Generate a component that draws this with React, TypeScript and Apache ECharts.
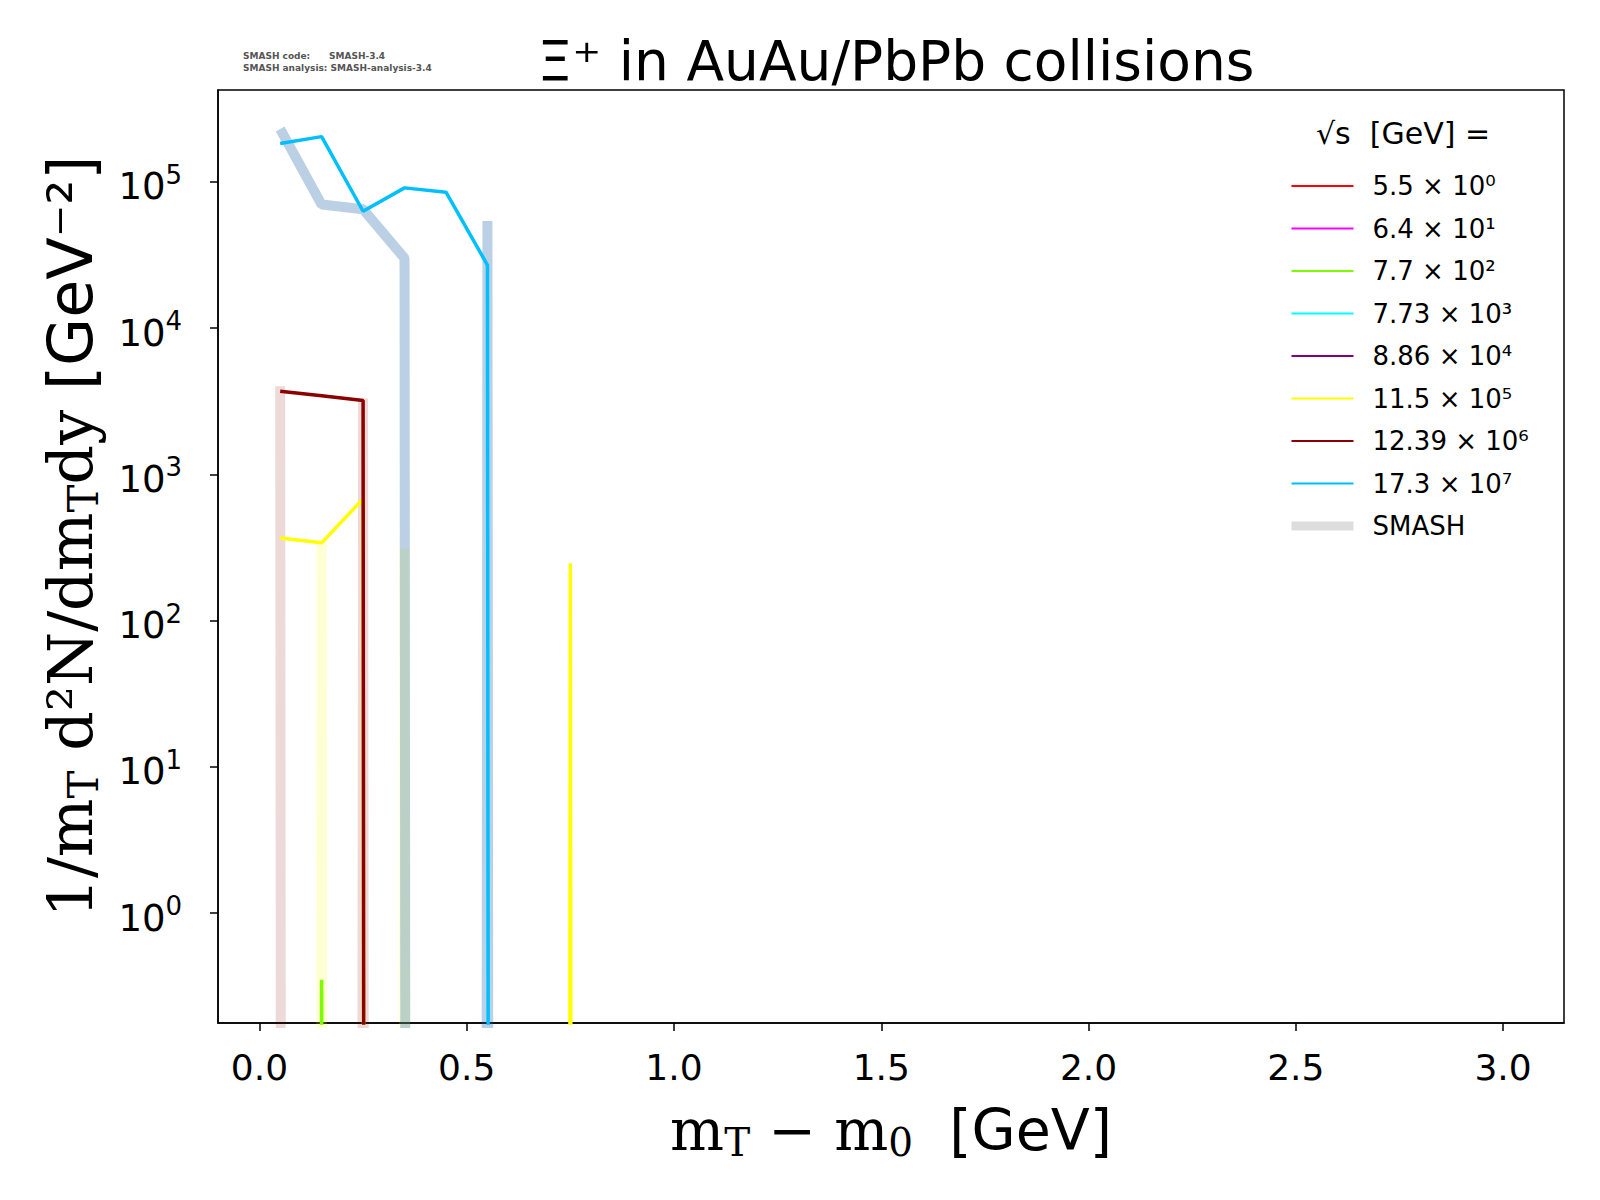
import React, { useEffect, useRef } from "react";
import * as echarts from "echarts";

const Z = 1e-300;
const xs = [0.05, 0.15, 0.25, 0.35, 0.45, 0.55, 0.65, 0.75, 0.85];
const labels = ["5.5 × 10⁰", "6.4 × 10¹", "7.7 × 10²", "7.73 × 10³", "8.86 × 10⁴", "11.5 × 10⁵", "12.39 × 10⁶", "17.3 × 10⁷"];
const colors = ["#ff0000", "#ff00ff", "#7cfc00", "#00ffff", "#800080", "#ffff00", "#8b0000", "#00bfff"];
const xTicks = [0, 0.5, 1, 1.5, 2, 2.5, 3];
// data series (by index in labels)
const dGreen = [Z, 0.35, Z];
const dYellow = [367, 340, 680, Z, Z, Z, Z, 247, Z];
const dDarkRed = [3700, 3450, 3200, Z];
const dSky = [183000, 204000, 63000, 91000, 85000, 27000, Z];
// SMASH series
const sYellow = [Z, 340, Z, 310, Z];
const sDarkRed = [4000, Z, 3300, Z];
const sSky = [230000, 70000, 65000, 30000, Z, 54000, Z];

const pair = (arr: number[]) => arr.map((v, i) => [xs[i], v]);

export default function App() {
  const ref = useRef<HTMLDivElement>(null);
  useEffect(() => {
    const chart = echarts.init(ref.current!, undefined, { renderer: "svg" });
    const dataSeries: Record<number, number[]> = { 2: dGreen, 5: dYellow, 6: dDarkRed, 7: dSky };
    const series: any[] = [];
    const smash = [
      { d: sDarkRed, c: "rgba(139,0,0,0.15)" },
      { d: sYellow, c: "rgba(255,255,0,0.17)" },
      { d: sSky, c: "rgba(30,100,170,0.3)" },
    ];
    smash.forEach((s) =>
      series.push({
        name: "SMASH", type: "line", data: pair(s.d), symbol: "none",
        lineStyle: { color: s.c, width: 10 }, itemStyle: { color: s.c }, z: 1,
      })
    );
    labels.forEach((l, i) =>
      series.push({
        name: l, type: "line", data: dataSeries[i] ? pair(dataSeries[i]) : [], symbol: "none",
        lineStyle: { color: colors[i], width: 3.5 }, itemStyle: { color: colors[i] }, z: 3,
      })
    );
    chart.setOption({
      animation: false,
      textStyle: { fontFamily: "DejaVu Sans" },
      title: {
        text: "Ξ⁺ in AuAu/PbPb collisions", left: 891, top: 28, textAlign: "center",
        textStyle: { fontSize: 55, fontWeight: "normal", color: "#000", fontFamily: "DejaVu Sans" },
      },
      graphic: [
        { type: "text", left: 243, top: 50, style: { text: "SMASH code:      SMASH-3.4\nSMASH analysis: SMASH-analysis-3.4", fontSize: 9, lineHeight: 12, fill: "#555", fontFamily: "DejaVu Sans", fontWeight: "bold" } },
        { type: "text", left: 1316, top: 118, style: { text: "√s  [GeV] =", fontSize: 30, fill: "#000", fontFamily: "DejaVu Sans" } },
      ],
      legend: {
        left: 1282, top: 168, orient: "vertical", itemWidth: 62, itemHeight: 14, itemGap: 16.5,
        itemStyle: { opacity: 0 },
        textStyle: { fontSize: 26, color: "#000", fontFamily: "DejaVu Sans", padding: [0, 0, 0, 14] },
        data: [...labels.map((l) => ({ name: l })), { name: "SMASH", itemStyle: { opacity: 0 }, lineStyle: { color: "#dddddd", width: 9 } }],
      },
      grid: { left: 218, right: 36, top: 90, bottom: 177, show: true, borderColor: "#000", borderWidth: 1.5 },
      xAxis: {
        type: "value", min: -0.1, max: 3.147,
        axisLine: { onZero: false, lineStyle: { color: "#000", width: 1.5 } },
        axisTick: { length: 8, lineStyle: { color: "#000", width: 1.5 }, customValues: xTicks },
        axisLabel: { fontSize: 36, color: "#000", margin: 26, customValues: xTicks, formatter: (v: number) => v.toFixed(1) },
        splitLine: { show: false },
        name: "{a|m}{s|T}{a| − m}{s|0}{b|  [GeV]}", nameLocation: "middle", nameGap: 74,
        nameTextStyle: { rich: {
          a: { fontSize: 57, fontFamily: "DejaVu Serif", color: "#000" },
          s: { fontSize: 39, fontFamily: "DejaVu Serif", color: "#000", padding: [26, 0, 0, 0] },
          b: { fontSize: 57, fontFamily: "DejaVu Sans", color: "#000" },
        } },
      },
      yAxis: {
        type: "log", logBase: 10, min: 0.177, max: 425000,
        axisLine: { onZero: false, lineStyle: { color: "#000", width: 1.5 } },
        axisTick: { length: 8, lineStyle: { color: "#000", width: 1.5 } },
        axisLabel: {
          color: "#000", margin: 36, showMinLabel: false, showMaxLabel: false,
          formatter: (v: number) => {
            const e = Math.log10(v);
            const r = Math.round(e);
            if (Math.abs(e - r) > 1e-6) return "";
            return "{b|10}{e|" + r + "}";
          },
          rich: {
            b: { fontSize: 37, color: "#000", fontFamily: "DejaVu Sans", padding: [10, 0, 0, 0] },
            e: { fontSize: 26, color: "#000", fontFamily: "DejaVu Sans", padding: [0, 0, 14, 0] },
          },
        },
        splitLine: { show: false },
        name: "{a|1/m}{s|T}{a| d²N/dm}{s|T}{a|dy}{b| [GeV⁻²]}", nameLocation: "middle", nameGap: 114,
        nameTextStyle: { padding: [0, 0, 0, 40], rich: {
          a: { fontSize: 62, fontFamily: "DejaVu Serif", color: "#000" },
          s: { fontSize: 42, fontFamily: "DejaVu Serif", color: "#000", padding: [26, 0, 0, 0] },
          b: { fontSize: 62, fontFamily: "DejaVu Sans", color: "#000" },
        } },
      },
      series,
    });
    return () => chart.dispose();
  }, []);
  return <div ref={ref} style={{ position: "absolute", left: 0, top: 0, width: 1600, height: 1200 }} />;
}
